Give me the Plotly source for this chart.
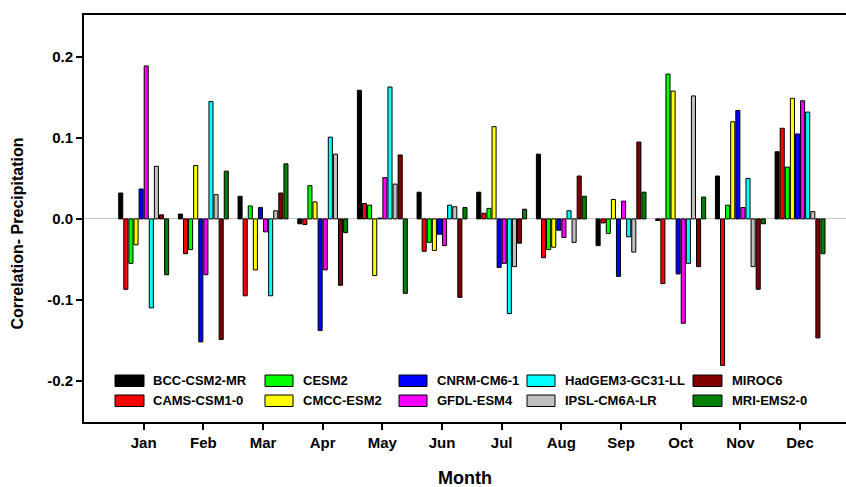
import plotly.graph_objects as go

months = ["Jan", "Feb", "Mar", "Apr", "May", "Jun", "Jul", "Aug", "Sep", "Oct", "Nov", "Dec"]
models = ["BCC-CSM2-MR", "CAMS-CSM1-0", "CESM2", "CMCC-ESM2", "CNRM-CM6-1",
          "GFDL-ESM4", "HadGEM3-GC31-LL", "IPSL-CM6A-LR", "MIROC6", "MRI-EMS2-0"]
colors = ["#000000", "#ff0000", "#00ff00", "#ffff00", "#0000ff",
          "#ff00ff", "#00ffff", "#c0c0c0", "#800000", "#008000"]

bcc = [0.032, 0.006, 0.028, -0.006, 0.159, 0.033, 0.033, 0.080, -0.033, -0.002, 0.053, 0.083]
cams = [-0.087, -0.043, -0.095, -0.007, 0.019, -0.040, 0.007, -0.048, -0.005, -0.080, -0.181, 0.112]
cesm2 = [-0.055, -0.038, 0.016, 0.041, 0.017, -0.029, 0.013, -0.038, -0.018, 0.179, 0.017, 0.064]
cmcc = [-0.032, 0.066, -0.063, 0.021, -0.070, -0.039, 0.114, -0.035, 0.024, 0.158, 0.120, 0.149]
cnrm = [0.037, -0.152, 0.014, -0.138, 0.001, -0.019, -0.060, -0.014, -0.071, -0.068, 0.134, 0.105]
gfdl = [0.189, -0.069, -0.016, -0.063, 0.051, -0.033, -0.055, -0.023, 0.022, -0.129, 0.014, 0.146]
hadgem = [-0.110, 0.145, -0.095, 0.101, 0.163, 0.017, -0.117, 0.010, -0.022, -0.055, 0.050, 0.132]
ipsl = [0.065, 0.030, 0.010, 0.080, 0.043, 0.015, -0.059, -0.029, -0.041, 0.152, -0.059, 0.009]
miroc6 = [0.005, -0.149, 0.032, -0.082, 0.079, -0.097, -0.030, 0.053, 0.095, -0.059, -0.087, -0.147]
mri = [-0.069, 0.059, 0.068, -0.017, -0.092, 0.014, 0.012, 0.028, 0.033, 0.027, -0.006, -0.043]

series = [bcc, cams, cesm2, cmcc, cnrm, gfdl, hadgem, ipsl, miroc6, mri]
ytickvals = [-0.2, -0.1, 0.0, 0.1, 0.2]
yticktext = ["-0.2", "-0.1", "0.0", "0.1", "0.2"]

FONT = "Liberation Sans, Arial, sans-serif"
W, H = 846, 487
L, R, T, B = 84, 0, 15, 65
PW, PH = W - L - R, H - T - B

def px_x(p):
    return (p - L) / PW

def px_y(p):
    return (H - B - p) / PH

xpos = list(range(1, len(months) + 1))

fig = go.Figure()
for name, vals, col in zip(models, series, colors):
    fig.add_trace(go.Bar(
        x=xpos, y=vals, name=name,
        marker=dict(color=col, line=dict(color="#000000", width=1)),
        showlegend=False,
    ))

# custom legend (2 rows x 5 columns, column-major order)
col_swatch_x = [(115, 144), (265, 293), (399, 427), (527, 555), (693, 722)]
col_text_x = [151, 301, 435, 563, 730]
row_y = [(375, 386.5), (395, 406.5)]
shapes = []
annotations = []
for i, (name, col) in enumerate(zip(models, colors)):
    c, r = i // 2, i % 2
    x0, x1 = col_swatch_x[c]
    y0, y1 = row_y[r]
    shapes.append(dict(type="rect", xref="paper", yref="paper",
                       x0=px_x(x0), x1=px_x(x1), y0=px_y(y1), y1=px_y(y0),
                       fillcolor=col, line=dict(color="#000000", width=1)))
    annotations.append(dict(xref="paper", yref="paper", x=px_x(col_text_x[c]),
                            y=px_y((y0 + y1) / 2), text=name, showarrow=False,
                            xanchor="left", yanchor="middle",
                            font=dict(family=FONT, size=13, color="#000000", weight="bold")))

annotations.append(dict(xref="paper", yref="paper", x=px_x(17.5), y=px_y(234),
                        text="Correlation- Precipitation", textangle=-90, showarrow=False,
                        xanchor="center", yanchor="middle",
                        font=dict(family=FONT, size=16, color="#000000", weight="bold")))
annotations.append(dict(xref="paper", yref="paper", x=0.5, y=px_y(478),
                        text="Month", showarrow=False, xanchor="center", yanchor="middle",
                        font=dict(family=FONT, size=18, color="#000000", weight="bold")))

fig.update_layout(
    width=W, height=H,
    margin=dict(l=L, r=R, t=T, b=B, pad=0),
    paper_bgcolor="white", plot_bgcolor="white",
    barmode="group", bargap=0.146, bargroupgap=0.2,
    shapes=shapes, annotations=annotations,
    font=dict(family=FONT, color="#000000"),
)
fig.update_xaxes(
    range=[0.0, 12.77], tickvals=xpos, ticktext=months,
    showline=True, linecolor="#000000", linewidth=2, mirror=True,
    ticks="outside", ticklen=6, tickwidth=1.5, tickcolor="#000000",
    showgrid=False, zeroline=False,
    tickfont=dict(family=FONT, size=15, color="#000000", weight="bold"),
)
fig.update_yaxes(
    range=[-0.251, 0.252], tickvals=ytickvals, ticktext=yticktext,
    showline=True, linecolor="#000000", linewidth=2, mirror=False,
    ticks="outside", ticklen=6, tickwidth=1.5, tickcolor="#000000",
    showgrid=False, zeroline=True, zerolinecolor="#c8c8c8", zerolinewidth=1,
    tickfont=dict(family=FONT, size=15, color="#000000", weight="bold"),
)

fig.write_html("out.html")
